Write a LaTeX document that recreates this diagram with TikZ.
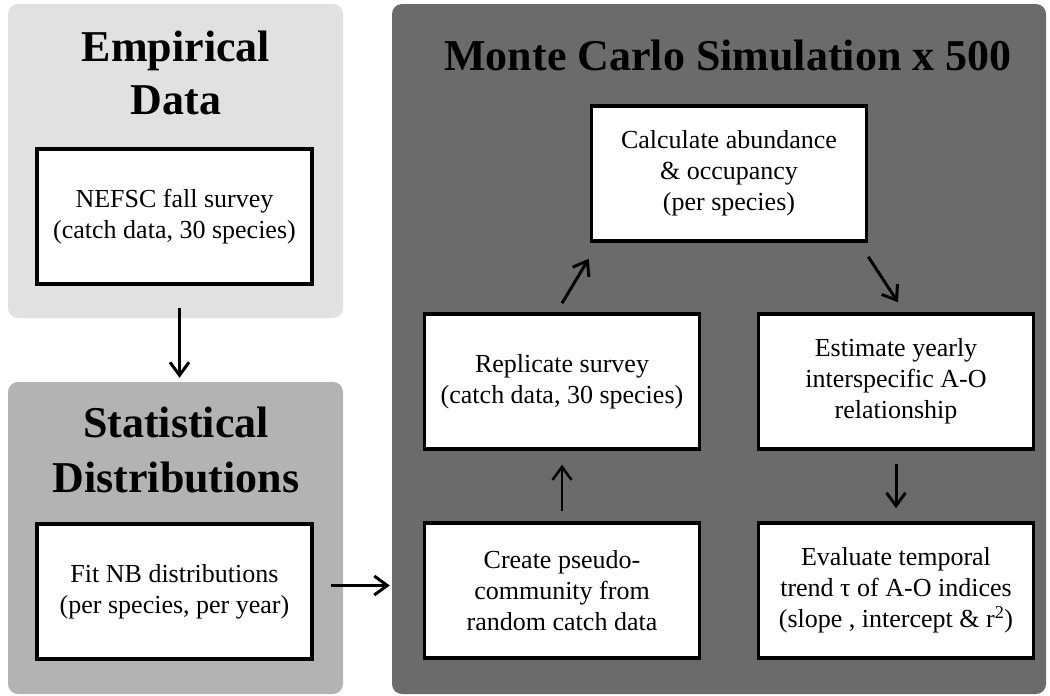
\documentclass[tikz,border=0pt]{standalone}
\usepackage{fontspec}
\setmainfont{Liberation Serif}
\usepackage{tikz}
\usetikzlibrary{positioning}
\usetikzlibrary{calc}
\usetikzlibrary{arrows.meta}

\definecolor{emplight}{HTML}{E1E1E1}
\definecolor{statmid}{HTML}{B3B3B3}
\definecolor{mcdark}{HTML}{6B6B6B}

\begin{document}
\begin{tikzpicture}[x=1pt,y=-1pt,
  panel/.style={rounded corners=10pt,inner sep=0pt},
  title/.style={font=\fontsize{44}{53}\selectfont\bfseries,align=center,inner sep=0pt},
  box/.style={draw=black,line width=3.5pt,fill=white,minimum width=275pt,minimum height=135pt,align=center,inner sep=0pt,font=\fontsize{26}{31}\selectfont},
  arr/.style={-{Straight Barb[length=13pt,width=19pt]},line width=3pt},
  thinarr/.style={-{Straight Barb[length=13pt,width=19pt,line width=2.5pt]},line width=1.5pt}]
\useasboundingbox (0,0) rectangle (1050,696);

% Draw the three grey panels behind everything
\node[panel,fill=emplight,minimum width=335pt,minimum height=314pt](emp) at (175.5,161){};
\node[panel,fill=statmid,minimum width=335pt,minimum height=312pt](stat) at (175.5,538){};
\node[panel,fill=mcdark,minimum width=654pt,minimum height=690pt](mc) at (719,349){};

% Panel titles
\node[title](emptitle) at (176,73){Empirical\\Data};
\node[title,font=\fontsize{44}{55}\selectfont\bfseries](stattitle) at (176,450){Statistical\\Distributions};
\node[title,anchor=base](mctitle) at (728,70){Monte Carlo Simulation x 500};

% Draw the nodes used for the picture
\node[box](nefsc) at (174.5,216.5){NEFSC fall survey\\(catch data, 30 species)};
\node[box,below of=nefsc,node distance=375pt](fit){Fit NB distributions\\(per species, per year)};
\node[box](calcab) at (729,173.5){Calculate abundance\\\& occupancy\\(per species)};
\node[box](rep) at (562,381.5){Replicate survey\\(catch data, 30 species)};
\node[box,right of=rep,node distance=334pt](est){Estimate yearly\\interspecific A-O\\relationship};
\node[box,below of=rep,node distance=209pt](create){Create pseudo-\\community from\\random catch data};
\node[box,below of=est,node distance=209pt](evaltrend){Evaluate temporal\\trend τ of A-O indices\\(slope , intercept \& r\textsuperscript{2})};

% Draw the edges between the nodes
\draw[arr] ([xshift=4pt,yshift=10pt]emp.south) -- ([xshift=4pt,yshift=4pt]stat.north);
\draw[arr,shorten <=17pt,shorten >=2pt] ([yshift=6pt]fit.east) -- ([yshift=6pt]fit.east -| mc.west);
\draw[thinarr,shorten <=10pt,shorten >=14pt] (create.north) -- (rep.south);
\draw[arr] ([yshift=9pt]rep.north) -- ([xshift=-1pt,yshift=-16pt]calcab.south west);
\draw[arr] ([yshift=-14pt]calcab.south east) -- ([xshift=2pt,yshift=10pt]est.north);
\draw[arr,shorten <=13pt,shorten >=13pt] (est.south) -- (evaltrend.north);
\end{tikzpicture}
\end{document}
